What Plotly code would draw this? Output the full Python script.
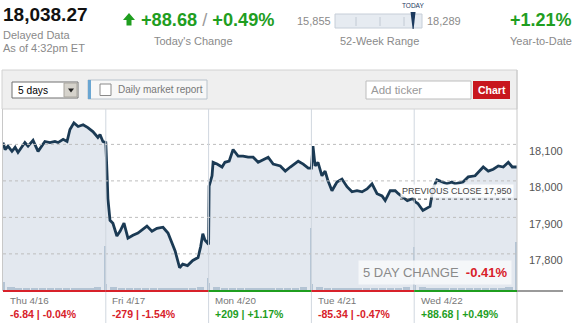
import plotly.graph_objects as go

W, H = 575, 323
FONT = "Arial, Liberation Sans, sans-serif"
GREEN = "#1f9e1f"
RED = "#d8212a"
GRAY = "#8a8a8a"


def px(x):
    return x / W


def py(y):
    return 1 - y / H


# ---------------- data ----------------
last_price = 18038.27
today_chg = 88.68
today_pct = 0.49
ytd_pct = 1.21
wk52_low = 15855
wk52_high = 18289
prev_close = 17950
as_of = "As of 4:32pm ET"

day_labels = ["Thu 4/16", "Fri 4/17", "Mon 4/20", "Tue 4/21", "Wed 4/22"]
day_chg_pts = [-6.84, -279, 209, -85.34, 88.68]
day_chg_pct = [-0.04, -1.54, 1.17, -0.47, 0.49]

y_ticks = [17800, 17900, 18000, 18100]

# minutes since session open (0..390) and index level
thu_min = [0, 8, 19, 34, 46, 57, 83, 95, 114, 133, 159, 178, 197, 209, 228, 243, 254, 269, 285, 304, 322, 341, 360, 368, 379, 390]
thu_val = [18105, 18086, 18095, 18081, 18092, 18078, 18105, 18095, 18111, 18081, 18108, 18105, 18108, 18105, 18114, 18108, 18141, 18159, 18149, 18154, 18146, 18135, 18119, 18127, 18108, 18105]
fri_min = [5, 8, 16, 27, 42, 54, 69, 84, 103, 122, 156, 175, 194, 217, 236, 251, 263, 280, 292, 310, 330, 350, 360, 368, 376, 390]
fri_val = [18014, 17951, 17892, 17884, 17849, 17862, 17884, 17843, 17851, 17857, 17876, 17862, 17870, 17873, 17857, 17830, 17808, 17762, 17772, 17768, 17782, 17790, 17820, 17855, 17838, 17826]
mon_min = [2, 13, 17, 32, 51, 62, 78, 93, 112, 131, 150, 169, 188, 226, 245, 272, 291, 310, 340, 359, 378, 390]
mon_val = [17986, 18014, 18051, 18046, 18038, 18051, 18054, 18086, 18068, 18068, 18065, 18065, 18051, 18065, 18046, 18041, 18027, 18038, 18054, 18046, 18035, 18035]
tue_min = [6, 14, 25, 40, 52, 63, 78, 97, 116, 135, 154, 173, 192, 211, 230, 249, 268, 280, 299, 318, 330, 364, 383, 390]
tue_val = [18095, 18041, 18051, 18014, 18027, 18000, 17973, 17997, 18005, 17984, 17970, 17973, 17970, 17978, 17992, 17965, 17959, 17946, 17973, 17973, 17965, 17946, 17951, 17950]
wed_min = [3, 14, 33, 60, 71, 86, 105, 124, 143, 155, 185, 205, 231, 250, 262, 281, 300, 319, 338, 357, 372, 390]
wed_val = [17943, 17938, 17919, 17930, 17978, 18003, 17997, 17992, 17997, 17992, 17997, 18011, 18014, 18027, 18038, 18027, 18032, 18041, 18038, 18051, 18038, 18038]

# volume (millions of shares): opening print, closing print, half-hour bars
vol_open = [13, 10, 12, 10, 8]
vol_close = [73, 20, 103, 72, 80]
vol_half_hour = [
    [5, 4, 3, 3, 3, 3, 3, 3, 3, 3, 4, 5],
    [5, 4, 3, 3, 3, 3, 3, 3, 3, 3, 4, 5],
    [5, 4, 3, 3, 3, 3, 3, 3, 3, 3, 4, 5],
    [5, 4, 3, 3, 3, 3, 3, 3, 3, 3, 4, 5],
    [5, 4, 3, 3, 3, 3, 3, 3, 3, 3, 4, 5],
]
half_hour_min = [30, 60, 90, 120, 150, 180, 210, 240, 270, 300, 330, 360]

SESSION = 390
day_mins = [thu_min, fri_min, mon_min, tue_min, wed_min]
day_vals = [thu_val, fri_val, mon_val, tue_val, wed_val]

xs, ys = [], []
for d, (mins, vals) in enumerate(zip(day_mins, day_vals)):
    xs += [d + m / SESSION for m in mins]
    ys += vals

vx, vy, vw = [], [], []
for d in range(5):
    vx += [d + 2 / SESSION, d + 388 / SESSION]
    vy += [vol_open[d], vol_close[d]]
    vw += [0.02, 0.02]
    for m, v in zip(half_hour_min, vol_half_hour[d]):
        vx.append(d + m / SESSION)
        vy.append(v)
        vw.append(0.07)

Y_RANGE = [17701, 18197]
PLOT_L, PLOT_R, PLOT_T, PLOT_B = 3, 517, 109, 290

fig = go.Figure()
fig.add_trace(go.Scatter(
    x=xs, y=ys, mode="lines", fill="tozeroy", fillcolor="#e3e8ef",
    line=dict(color="#1b3a54", width=2.8), hoverinfo="skip"))
fig.add_trace(go.Bar(
    x=vx, y=vy, width=vw, yaxis="y2", marker=dict(color="#b4c4d4", line=dict(width=0)),
    hoverinfo="skip"))

shapes = []
ann = []


def rect(x0, y0, x1, y1, fill, line=None, lw=1, layer="above"):
    shapes.append(dict(type="rect", xref="paper", yref="paper",
                       x0=px(x0), x1=px(x1), y0=py(y1), y1=py(y0),
                       fillcolor=fill, line=dict(color=line or fill, width=lw if line else 0),
                       layer=layer))


def hline(x0, x1, y, color, w=1, dash=None):
    shapes.append(dict(type="line", xref="paper", yref="paper", x0=px(x0), x1=px(x1),
                       y0=py(y), y1=py(y), line=dict(color=color, width=w, dash=dash), layer="above"))


def vline(x, y0, y1, color, w=1):
    shapes.append(dict(type="line", xref="paper", yref="paper", x0=px(x), x1=px(x),
                       y0=py(y0), y1=py(y1), line=dict(color=color, width=w), layer="above"))


def path(points, fill):
    d = "M " + " L ".join(f"{px(a):.5f},{py(b):.5f}" for a, b in points) + " Z"
    shapes.append(dict(type="path", xref="paper", yref="paper", path=d,
                       fillcolor=fill, line=dict(width=0), layer="above"))


def text(x, y, s, size, color, anchor="left", **kw):
    a = dict(x=px(x), y=py(y), xref="paper", yref="paper", text=s, showarrow=False,
             xanchor=anchor, yanchor="middle", font=dict(size=size, color=color, family=FONT))
    a.update(kw)
    ann.append(a)


def sgn(v, fmt):
    return ("+" if v > 0 else "") + fmt.format(v)


# ---------------- header ----------------
text(1, 14, f"<b>{last_price:,.2f}</b>", 19, "#111")
text(1, 34.5, "Delayed Data", 11, GRAY)
text(1, 47.5, as_of, 11, GRAY)

up = today_chg >= 0
path([(123, 20), (129, 13), (135, 20), (131.5, 20), (131.5, 25.5), (126.5, 25.5), (126.5, 20)],
     GREEN if up else RED)
text(139, 20, f"<b>{sgn(today_chg, '{:.2f}')}</b> <span style='color:#9a9a9a'>/</span> "
              f"<b>{sgn(today_pct, '{:.2f}')}%</b>", 18.2, GREEN if up else RED)
text(193, 41, "Today's Change", 11, GRAY, anchor="center")

BAR_L, BAR_R = 335, 422
text(333, 21, f"{wk52_low:,}", 11, GRAY, anchor="right")
text(425, 21, f"{wk52_high:,}", 11, GRAY)
rect(BAR_L, 14, BAR_R, 28, "#e6ebf1", "#c6ced8")
for tx in [356, 380, 404]:
    vline(tx, 17, 26, "#c2cad4")
mx = BAR_L + (last_price - wk52_low) / (wk52_high - wk52_low) * (BAR_R - BAR_L)
path([(mx - 2.5, 12), (mx + 2.5, 12), (mx + 0.6, 29), (mx - 0.4, 29)], "#1c3a5e")
text(mx, 6, "TODAY", 6.5, "#1c3a5e", anchor="center")
text(379, 41, "52-Week Range", 11, GRAY, anchor="center")

text(574, 20, f"<b>{sgn(ytd_pct, '{:.2f}')}%</b>", 18, GREEN if ytd_pct >= 0 else RED, anchor="right")
text(574, 41, "Year-to-Date", 11, GRAY, anchor="right")

# ---------------- toolbar ----------------
rect(2, 70, 517, 109, "#efefef", "#d2d2d2")
rect(12, 82, 78, 98, "#ffffff", "#707070")
rect(64, 83, 77, 97, "#d6d3cc", "#a8a59e")
path([(68, 88.5), (74, 88.5), (71, 92.5)], "#222")
text(16, 90, "5 days", 10.2, "#000")
rect(88, 80, 207, 99, "#f7f7f7", "#b9c3cc")
rect(88, 80, 91, 99, "#6aa6d2")
rect(100, 84, 111, 95.5, "#ffffff", "#8a8a8a")
text(116, 89.5, "Daily market report", 10, "#777")
rect(366, 81, 471, 99, "#ffffff", "#bdbdbd")
text(369, 90, "Add ticker", 11.5, "#999")
rect(473, 81, 510, 99, "#c8161d")
text(491.5, 90, "<b>Chart</b>", 10.5, "#ffffff", anchor="center")

# ---------------- chart decorations ----------------
for t in y_ticks:
    shapes.append(dict(type="line", xref="paper", yref="y", x0=px(PLOT_L), x1=px(PLOT_R),
                       y0=t, y1=t, line=dict(color="#bdbdbd", width=1, dash="dot"), layer="above"))
    ann.append(dict(x=px(527), y=t, xref="paper", yref="y", yshift=-6.5, text=f"{t:,}",
                    showarrow=False, xanchor="left", yanchor="middle",
                    font=dict(size=11, color="#555", family=FONT)))

for d in range(1, 5):
    shapes.append(dict(type="line", xref="x", yref="paper", x0=d, x1=d, y0=py(323), y1=py(PLOT_T),
                       line=dict(color="#d0d7df", width=1), layer="above"))
vline(PLOT_L - 0.5, PLOT_T, 291, "#c8c8c8")
vline(PLOT_R, 70, 323, "#c8c8c8")

# previous close
shapes.append(dict(type="line", xref="paper", yref="y", x0=px(400), x1=px(PLOT_R),
                   y0=prev_close, y1=prev_close, line=dict(color="#555", width=1, dash="dot"),
                   layer="above"))
ann.append(dict(x=px(400), y=prev_close, xref="paper", yref="y", yshift=1,
                text=f"PREVIOUS CLOSE {prev_close:,}", showarrow=False, xanchor="left",
                yanchor="bottom", bgcolor="rgba(255,255,255,0.85)", borderpad=1,
                font=dict(size=9, color="#444", family=FONT)))

# 5-day change
total_chg = sum(day_chg_pts)
five_pct = total_chg / (last_price - total_chg) * 100
ann.append(dict(x=px(358), y=py(272), xref="paper", yref="paper", showarrow=False,
                xanchor="left", yanchor="middle", borderpad=4,
                bgcolor="rgba(247,248,251,0.88)",
                text=f"5 DAY CHANGE  <b><span style='color:{RED if five_pct < 0 else GREEN}'>"
                     f"{sgn(five_pct, '{:.2f}')}%</span></b>",
                font=dict(size=13, color="#8a8a8a", family=FONT)))

# day strip
for d in range(5):
    c = GREEN if day_chg_pts[d] >= 0 else RED
    shapes.append(dict(type="line", xref="x", yref="paper", x0=d, x1=d + 1, y0=py(291), y1=py(291),
                       line=dict(color=c, width=2), layer="above"))
    fmt = "{:.0f}" if abs(day_chg_pts[d]) >= 100 else "{:.2f}"
    ann.append(dict(x=d + 0.045, y=py(300), xref="x", yref="paper", text=day_labels[d],
                    showarrow=False, xanchor="left", yanchor="middle",
                    font=dict(size=9.8, color="#777", family=FONT)))
    ann.append(dict(x=d + 0.045, y=py(314), xref="x", yref="paper",
                    text=f"<b>{sgn(day_chg_pts[d], fmt)} | {sgn(day_chg_pct[d], '{:.2f}')}%</b>",
                    showarrow=False, xanchor="left", yanchor="middle",
                    font=dict(size=10.5, color=c, family=FONT)))
hline(PLOT_R, 563, 291, "#9a9a9a", 2)

fig.update_layout(
    width=W, height=H, margin=dict(l=0, r=0, t=0, b=0),
    paper_bgcolor="white", plot_bgcolor="white", showlegend=False, bargap=0,
    xaxis=dict(domain=[px(PLOT_L), px(PLOT_R)], range=[0, 5], visible=False, fixedrange=True),
    yaxis=dict(domain=[py(PLOT_B), py(PLOT_T)], range=Y_RANGE, visible=False, fixedrange=True),
    yaxis2=dict(overlaying="y", range=[0, 300], visible=False, fixedrange=True),
    shapes=shapes, annotations=ann,
)

fig.write_html("out.html", config={"displayModeBar": False})
